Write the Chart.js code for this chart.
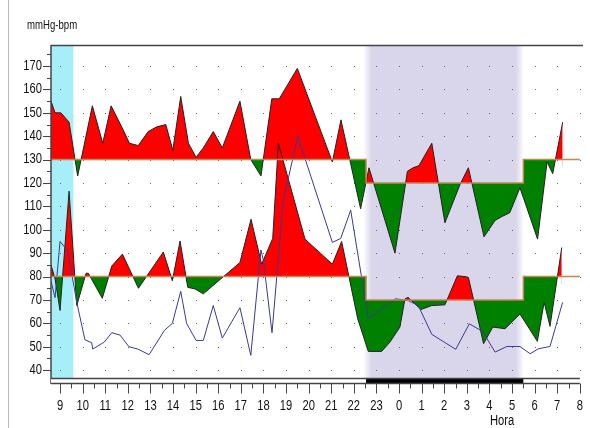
<!DOCTYPE html>
<html>
<head>
<meta charset="utf-8">
<script src="https://cdn.jsdelivr.net/npm/chart.js@4/dist/chart.umd.min.js"></script>
<style>
  body { margin: 0; background: #fff; }
  canvas { display: block; }
</style>
</head>
<body>
<canvas id="abpmChart" width="590" height="428"></canvas>
<script>
// hours run past midnight as 24, 25, ... so the axis stays continuous
const hourTicks = [9, 10, 11, 12, 13, 14, 15, 16, 17, 18, 19, 20, 21, 22, 23, 24, 25, 26, 27, 28, 29, 30, 31, 32];
const valueTicks = [40, 50, 60, 70, 80, 90, 100, 110, 120, 130, 140, 150, 160, 170];

// systolic pressure
const sysHours = [8.6, 8.78, 9.04, 9.4, 9.78, 10.43, 10.89, 11.26, 11.83, 12.07, 12.46, 12.9, 13.28, 13.68, 13.99, 14.34, 14.68, 15.02, 15.34, 15.78, 16.18, 16.96, 17.44, 17.89, 18.37, 18.7, 19.5, 21.05, 21.43, 22.3, 22.67, 23.82, 24.37, 24.62, 24.88, 25.45, 26.03, 26.7, 27.07, 27.76, 28.25, 28.54, 28.9, 29.35, 30.13, 30.55, 30.8, 31.24];
const sysValues = [155, 150, 150, 146, 123, 153, 137, 153, 142, 137, 136, 142, 144, 145, 134, 157, 137, 131, 135, 142, 135, 155, 130, 123, 156, 156, 169, 129, 147, 109, 126.5, 90, 125, 126.5, 127.4, 137, 103, 119.4, 126.5, 97, 104, 105.6, 107.3, 118, 96, 129, 124, 146];

// diastolic pressure
const diaHours = [8.6, 8.78, 9.0, 9.4, 9.74, 10.15, 10.25, 10.87, 11.29, 11.76, 12.47, 13.57, 13.97, 14.31, 14.65, 14.97, 15.34, 16.96, 17.45, 17.92, 18.41, 18.66, 19.84, 21.05, 21.46, 22.17, 22.64, 23.23, 23.6, 24.04, 24.26, 24.4, 24.97, 25.45, 26.03, 26.58, 26.92, 27.07, 27.29, 27.74, 28.15, 28.69, 29.35, 30.12, 30.42, 30.68, 31.2];
const diaValues = [85, 79, 65.5, 116.5, 67.6, 81.4, 81.4, 70.7, 84.5, 89.6, 75, 90.5, 78.2, 95.2, 75.4, 74.7, 72.6, 86, 104.5, 85.3, 96.3, 137, 96, 85.3, 95, 62, 48, 48, 52, 58.4, 70.4, 71.1, 65.9, 67.6, 67.9, 80.3, 80, 79.6, 70.4, 51.3, 58.4, 57.7, 64, 52.3, 69, 58.7, 92.4];

// heart rate
const hrHours = [8.6, 8.78, 9.0, 9.34, 9.74, 10.1, 10.4, 10.45, 10.96, 11.29, 11.65, 12.05, 12.44, 12.94, 13.62, 13.97, 14.34, 14.6, 15.02, 15.34, 15.78, 16.18, 16.96, 17.44, 17.89, 18.0, 18.38, 18.87, 19.52, 21.05, 21.42, 21.86, 22.64, 23.84, 24.41, 24.85, 25.45, 26.04, 26.51, 27.11, 27.7, 28.25, 28.77, 29.35, 29.8, 30.16, 30.68, 31.24];
const hrValues = [78, 71, 95, 91, 69, 53, 51.7, 49, 52, 56, 55, 50, 49, 46.6, 57, 60, 73.7, 60, 52.7, 52.7, 67.6, 53.7, 66.7, 46.3, 91.4, 86.7, 56, 112, 140, 94.6, 96.3, 108.4, 62, 70.5, 69.7, 67.6, 55.3, 51.7, 48.9, 59.8, 56.5, 47.7, 50.1, 50.1, 47, 49.1, 50.1, 69];

// limits: day 130/80, night 120/70
const limitHours = [8.6, 22.54, 22.54, 29.5, 29.5, 32.0];
const sysLimit = [130, 130, 120, 120, 130, 130];
const diaLimit = [80, 80, 70, 70, 80, 80];

// shaded periods and the sleep bar
const cyanBand = [8.6, 9.59];
const nightBand = [22.6, 29.35];
const sleepBar = [22.54, 29.5];

const FONT = "'Liberation Sans', Arial, sans-serif";

function toPoints(xs, ys) {
    return xs.map((x, i) => ({ x: x, y: ys[i] }));
}

// tall, narrow text like the original print
function narrowText(ctx, text, x, y, align, size) {
    ctx.save();
    ctx.translate(x, y);
    ctx.scale(0.8, 1);
    ctx.font = size + 'px ' + FONT;
    ctx.textAlign = align;
    ctx.textBaseline = 'middle';
    ctx.fillText(text, 0, 0);
    ctx.restore();
}

const framePlugin = {
    id: 'frame',
    beforeDatasetsDraw(chart) {
        const ctx = chart.ctx;
        const area = chart.chartArea;
        const xs = chart.scales.x;
        const ys = chart.scales.y;
        ctx.save();
        // cyan period
        const c0 = xs.getPixelForValue(cyanBand[0]);
        const c1 = xs.getPixelForValue(cyanBand[1]);
        ctx.fillStyle = '#a6eef8';
        ctx.fillRect(c0, area.top, c1 - c0, area.bottom - area.top);
        // night period with soft edges
        const n0 = xs.getPixelForValue(nightBand[0]);
        const n1 = xs.getPixelForValue(nightBand[1]);
        const g = ctx.createLinearGradient(n0 - 4, 0, n1 + 4, 0);
        const w = n1 - n0 + 8;
        g.addColorStop(0, 'rgba(217,214,235,0)');
        g.addColorStop(8 / w, 'rgba(217,214,235,1)');
        g.addColorStop(1 - 8 / w, 'rgba(217,214,235,1)');
        g.addColorStop(1, 'rgba(217,214,235,0)');
        ctx.fillStyle = g;
        ctx.fillRect(n0 - 4, area.top, w, area.bottom - area.top);
        // dotted grid
        ctx.fillStyle = '#666';
        hourTicks.forEach(h => {
            const px = Math.round(xs.getPixelForValue(h));
            valueTicks.forEach(v => {
                const py = Math.round(ys.getPixelForValue(v));
                ctx.fillRect(px, py, 1, 1);
            });
        });
        ctx.restore();
    },
    afterDraw(chart) {
        const ctx = chart.ctx;
        const area = chart.chartArea;
        const xs = chart.scales.x;
        const ys = chart.scales.y;
        ctx.save();
        ctx.strokeStyle = '#444';
        // top border
        ctx.lineWidth = 1.5;
        ctx.beginPath();
        ctx.moveTo(area.left, area.top + 0.5);
        ctx.lineTo(area.right, area.top + 0.5);
        ctx.stroke();
        // y axis line and ticks
        ctx.beginPath();
        ctx.moveTo(area.left, area.top);
        ctx.lineTo(area.left, area.bottom + 5);
        ctx.stroke();
        ctx.lineWidth = 1;
        ctx.beginPath();
        for (let v = 40; v <= 175; v += 5) {
            const py = Math.round(ys.getPixelForValue(v)) + 0.5;
            ctx.moveTo(area.left - (v % 10 === 0 ? 8 : 4), py);
            ctx.lineTo(area.left, py);
        }
        ctx.stroke();
        // x axis bar
        const barTop = area.bottom - 0.5;
        const x8 = xs.getPixelForValue(limitHours[5]);
        ctx.fillStyle = '#fff';
        ctx.fillRect(area.left, barTop, x8 - area.left, 5);
        const s0 = xs.getPixelForValue(sleepBar[0]);
        const s1 = xs.getPixelForValue(sleepBar[1]);
        ctx.fillStyle = '#000';
        ctx.fillRect(s0, barTop, s1 - s0, 5);
        ctx.lineWidth = 1.5;
        ctx.strokeStyle = '#444';
        ctx.beginPath();
        ctx.moveTo(area.left, barTop);
        ctx.lineTo(x8, barTop);
        ctx.moveTo(area.left, barTop + 5);
        ctx.lineTo(x8, barTop + 5);
        ctx.stroke();
        // hour and half hour ticks
        ctx.lineWidth = 1;
        ctx.beginPath();
        for (let h = 9; h <= 32; h += 0.5) {
            const px = Math.round(xs.getPixelForValue(h)) + 0.5;
            ctx.moveTo(px, barTop + 5);
            ctx.lineTo(px, barTop + (h % 1 === 0 ? 15 : 10));
        }
        ctx.stroke();
        // tick labels
        ctx.fillStyle = '#111';
        hourTicks.forEach(h => {
            narrowText(ctx, String(h % 24), xs.getPixelForValue(h), 406, 'center', 14);
        });
        valueTicks.forEach(v => {
            narrowText(ctx, String(v), 42, ys.getPixelForValue(v), 'right', 14);
        });
        // titles
        narrowText(ctx, 'Hora', 490, 421, 'left', 14);
        narrowText(ctx, 'mmHg-bpm', 27, 26, 'left', 12);
        // page edge
        ctx.strokeStyle = '#bbb';
        ctx.beginPath();
        ctx.moveTo(8.5, 0);
        ctx.lineTo(8.5, 428);
        ctx.stroke();
        ctx.restore();
    }
};

const ctx = document.getElementById('abpmChart').getContext('2d');
new Chart(ctx, {
    type: 'line',
    data: {
        datasets: [
            {
                label: 'Limite sistólica',
                data: toPoints(limitHours, sysLimit),
                borderColor: '#c8844c',
                borderWidth: 1.5,
                pointRadius: 0,
                fill: false
            },
            {
                label: 'Limite diastólica',
                data: toPoints(limitHours, diaLimit),
                borderColor: '#c8844c',
                borderWidth: 1.5,
                pointRadius: 0,
                fill: false
            },
            {
                label: 'FC',
                data: toPoints(hrHours, hrValues),
                borderColor: '#3a3a94',
                borderWidth: 1,
                pointRadius: 0,
                fill: false
            },
            {
                label: 'PAD',
                data: toPoints(diaHours, diaValues),
                borderColor: '#222',
                borderWidth: 1,
                pointRadius: 0,
                fill: { target: 1, above: '#ff0000', below: '#008000' }
            },
            {
                label: 'PAS',
                data: toPoints(sysHours, sysValues),
                borderColor: '#222',
                borderWidth: 1,
                pointRadius: 0,
                fill: { target: 0, above: '#ff0000', below: '#008000' }
            }
        ]
    },
    options: {
        responsive: false,
        animation: false,
        events: [],
        layout: {
            padding: { top: 45, right: 7, left: 0, bottom: 0 }
        },
        elements: {
            line: { tension: 0 }
        },
        scales: {
            x: {
                type: 'linear',
                min: 8.6,
                max: 32.14,
                afterFit: function(scale) { scale.height = 49; },
                afterBuildTicks: function(scale) {
                    scale.ticks = hourTicks.map(v => ({ value: v }));
                },
                grid: { display: false, drawTicks: false },
                border: { display: false },
                ticks: { display: false }
            },
            y: {
                type: 'linear',
                min: 36.2,
                max: 179,
                afterFit: function(scale) { scale.width = 51; },
                afterBuildTicks: function(scale) {
                    scale.ticks = valueTicks.map(v => ({ value: v }));
                },
                grid: { display: false, drawTicks: false },
                border: { display: false },
                ticks: { display: false }
            }
        },
        plugins: {
            legend: { display: false },
            tooltip: { enabled: false },
            title: { display: false }
        }
    },
    plugins: [framePlugin]
});
</script>
</body>
</html>
